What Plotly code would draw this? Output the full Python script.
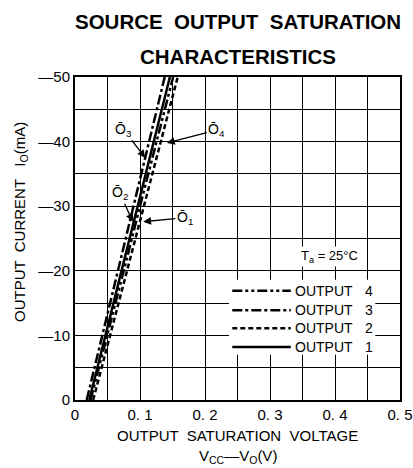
import plotly.graph_objects as go

# Data
current_mA = [0, -10, -20, -30, -40, -50]
v_out1 = [0.022, 0.047, 0.071, 0.096, 0.121, 0.146]   # OUTPUT 1 solid
v_out2 = [0.028, 0.054, 0.080, 0.106, 0.132, 0.158]   # OUTPUT 2 dashed
v_out3 = [0.018, 0.042, 0.066, 0.090, 0.114, 0.138]   # OUTPUT 3 dash-dot
v_out4 = [0.024, 0.050, 0.075, 0.100, 0.126, 0.151]   # OUTPUT 4 dash-dot-dot

x_ticks = [0, 0.1, 0.2, 0.3, 0.4, 0.5]
x_ticklabels = ["0", "0. 1", "0. 2", "0. 3", "0. 4", "0. 5"]
y_ticks = [0, -10, -20, -30, -40, -50]
y_ticklabels = ["0", "\u201410", "\u201420", "\u201430", "\u201440", "\u201450"]

series = [
    ("4", v_out4, "10px,3px,3px,3px,3px,3px"),
    ("3", v_out3, "10px,3px,3px,3px"),
    ("2", v_out2, "5px,3px"),
    ("1", v_out1, "solid"),
]

FONT = "Liberation Sans, Arial, sans-serif"
W, H, L, R, T, B = 413, 468, 75, 13, 77, 68
pw, ph = W - L - R, H - T - B
def px(xp):
    return (xp - L) / pw
def py(yp):
    return (H - B - yp) / ph

fig = go.Figure()
for num, v, dash in series:
    fig.add_trace(go.Scatter(x=v, y=current_mA, mode="lines", name="OUTPUT " + num,
                             line=dict(color="black", width=2.5, dash=dash),
                             showlegend=False))

# white area behind the legend block
fig.add_shape(type="rect", xref="x", yref="y", x0=0.237, x1=0.462, y0=-18.6, y1=-7.0,
              fillcolor="white", line=dict(width=0), layer="above")

legend_y = [-16.9, -13.9, -11.1, -8.2]
for (num, v, dash), ly in zip(series, legend_y):
    fig.add_shape(type="line", xref="x", yref="y", x0=0.242, x1=0.332, y0=ly, y1=ly,
                  line=dict(color="black", width=2.5, dash=dash), layer="above")
    fig.add_annotation(x=0.336, y=ly, xref="x", yref="y", text="OUTPUT",
                       showarrow=False, xanchor="left", yanchor="middle",
                       font=dict(family=FONT, size=14, color="black"))
    fig.add_annotation(x=0.452, y=ly, xref="x", yref="y", text=num,
                       showarrow=False, xanchor="center", yanchor="middle",
                       font=dict(family=FONT, size=14, color="black"))

fig.add_annotation(x=0.392, y=-22.2, xref="x", yref="y",
                   text="T<sub>a</sub> = 25°C", showarrow=False,
                   xanchor="center", yanchor="middle",
                   bgcolor="white", font=dict(family=FONT, size=13, color="black"))

# curve labels with arrows
labels = [
    ("\u014c<sub>3</sub>", 0.108, -37.5, 0.075, -41.8),
    ("\u014c<sub>4</sub>", 0.1415, -39.8, 0.218, -41.8),
    ("\u014c<sub>2</sub>", 0.089, -27.6, 0.069, -32.0),
    ("\u014c<sub>1</sub>", 0.105, -27.6, 0.169, -28.2),
]
for txt, x, y, ax, ay in labels:
    fig.add_annotation(x=x, y=y, ax=ax, ay=ay, xref="x", yref="y", axref="x", ayref="y",
                       text=txt, showarrow=True, arrowhead=2, arrowsize=1.2,
                       arrowwidth=1.3, arrowcolor="black", standoff=0,
                       font=dict(family=FONT, size=14, color="black"))

fig.update_layout(
    width=W, height=H,
    margin=dict(l=L, r=R, t=T, b=B, autoexpand=False),
    paper_bgcolor="white", plot_bgcolor="white",
    font=dict(family=FONT, size=14, color="black"),
    xaxis=dict(range=[0, 0.5], tickvals=x_ticks, ticktext=x_ticklabels,
               showgrid=True, gridcolor="black", gridwidth=1.2,
               minor=dict(dtick=0.05, showgrid=True, gridcolor="black", gridwidth=1.2),
               showline=True, linecolor="black", linewidth=2, mirror=True,
               ticks="", zeroline=False, fixedrange=True, automargin=False,
               tickfont=dict(size=15)),
    yaxis=dict(range=[0, -50], tickvals=y_ticks, ticktext=y_ticklabels,
               showgrid=True, gridcolor="black", gridwidth=1.2,
               minor=dict(dtick=5, showgrid=True, gridcolor="black", gridwidth=1.2),
               showline=True, linecolor="black", linewidth=2, mirror=True,
               ticks="", zeroline=False, fixedrange=True, automargin=False,
               tickfont=dict(size=15)),
)

def add_text(xp, yp, text, size, angle=0):
    fig.add_annotation(x=px(xp), y=py(yp), xref="paper", yref="paper", text=text,
                       showarrow=False, xanchor="center", yanchor="middle",
                       textangle=angle, font=dict(family=FONT, size=size, color="black"))

add_text(238, 21, "<b>SOURCE  OUTPUT  SATURATION</b>", 20.5)
add_text(238, 57, "<b>CHARACTERISTICS</b>", 20.5)
add_text(20, 222, "OUTPUT  CURRENT   I<sub>O</sub>(mA)", 15, -90)
add_text(238, 435, "OUTPUT  SATURATION  VOLTAGE", 15)
add_text(238, 456, "V<sub>CC</sub>\u2014V<sub>O</sub>(V)", 15)

fig.write_html("out.html", config={"displayModeBar": False})

# remove the default page margin so the figure fills the window exactly
with open("out.html", "r", encoding="utf-8") as f:
    html = f.read()
html = html.replace("<head>", "<head><style>html,body{margin:0;padding:0;overflow:hidden;}</style>", 1)
with open("out.html", "w", encoding="utf-8") as f:
    f.write(html)
